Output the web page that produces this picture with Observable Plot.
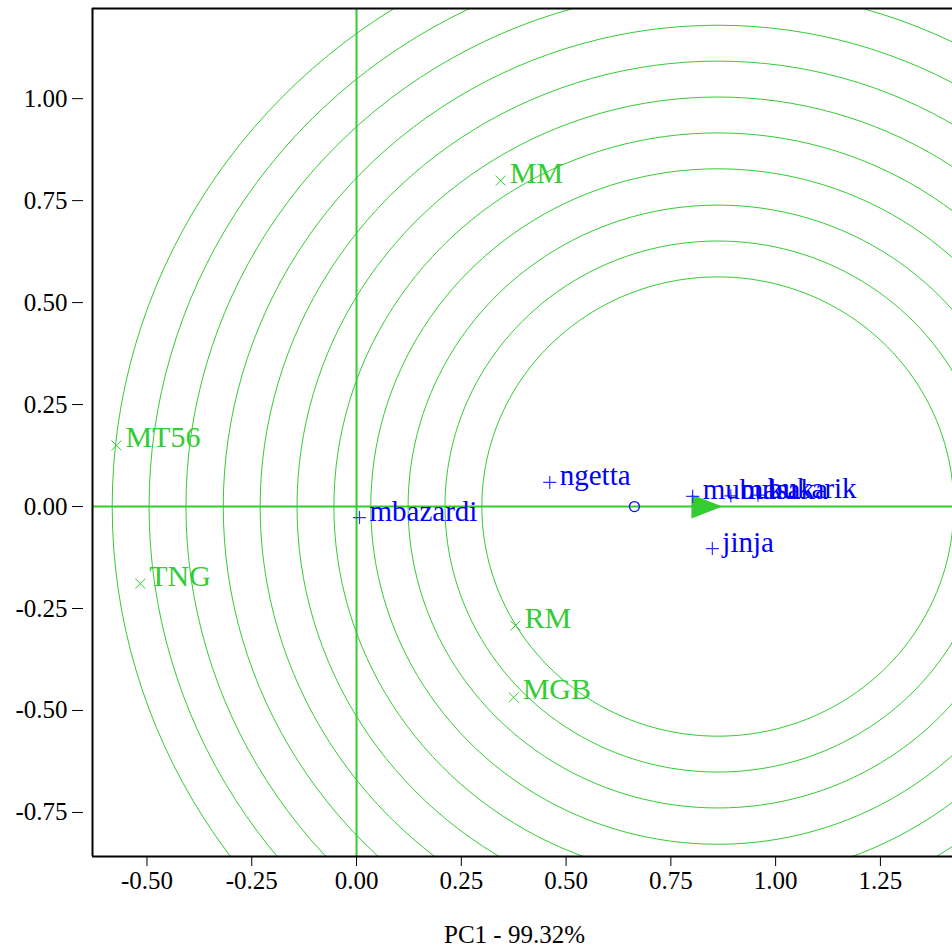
<!DOCTYPE html>
<html>
<head>
<meta charset="utf-8">
<script src="https://cdn.jsdelivr.net/npm/d3@7"></script>
<script src="https://cdn.jsdelivr.net/npm/@observablehq/plot@0.6"></script>
<style>
  html, body { margin: 0; padding: 0; background: #fff; }
</style>
</head>
<body>
<div id="chart"></div>
<script>
// ---- data ----
const genotypeNames = ["ngetta", "mbazardi", "mubuku", "masaka", "bukarik", "jinja"];
const genotypePC1   = [0.461, 0.007, 0.802, 0.893, 0.958, 0.849];
const genotypePC2   = [0.059, -0.027, 0.025, 0.026, 0.028, -0.103];

const envNames = ["MM", "MT56", "TNG", "RM", "MGB"];
const envPC1   = [0.344, -0.573, -0.516, 0.379, 0.375];
const envPC2   = [0.799, 0.150, -0.189, -0.292, -0.468];

const meanPoint = [0.663, 0];          // small "o"
const arrowTip = [0.873, 0];           // AEA arrow head
const circleCenter = [0.862, 0];       // ideal genotype
const circleRadii = [0.563, 0.651, 0.739, 0.828, 0.916, 1.004, 1.092, 1.180, 1.269, 1.357, 1.445];

const xTicks = [-0.5, -0.25, 0, 0.25, 0.5, 0.75, 1.0, 1.25];
const yTicks = [-0.75, -0.5, -0.25, 0, 0.25, 0.5, 0.75, 1.0];
const xDomain = [-0.63, 1.422];
const yDomain = [-0.858, 1.221];
const xLabel = "PC1 - 99.32%";

// ---- derived tables ----
const genotypes = genotypeNames.map((name, i) => ({name, x: genotypePC1[i], y: genotypePC2[i]}));
const envs = envNames.map((name, i) => ({name, x: envPC1[i], y: envPC2[i]}));
const circlePts = circleRadii.flatMap(r =>
  d3.range(0, 361, 2).map(a => ({
    r,
    x: circleCenter[0] + r * Math.cos(a * Math.PI / 180),
    y: circleCenter[1] + r * Math.sin(a * Math.PI / 180)
  }))
);

const GREEN = "#33cc33";
const BLUE = "#0000ff";
const BLUE_MARK = "#3030ff";

const arrowHead = {
  draw(ctx) {
    ctx.moveTo(0, 0);
    ctx.lineTo(-31, -12);
    ctx.lineTo(-31, 12);
    ctx.closePath();
  }
};

const fmt = d => d.toFixed(2);

const chart = Plot.plot({
  width: 952,
  height: 946,
  marginLeft: 92,
  marginRight: 0,
  marginTop: 8,
  marginBottom: 90,
  x: {domain: xDomain},
  y: {domain: yDomain},
  style: {
    fontFamily: "'Liberation Serif', 'Times New Roman', serif",
    fontSize: "25px",
    background: "white",
    color: "black"
  },
  marks: [
    Plot.line(circlePts, {x: "x", y: "y", z: "r", stroke: GREEN, strokeWidth: 1, clip: true}),
    Plot.ruleY([0], {stroke: GREEN, strokeWidth: 2}),
    Plot.ruleX([0], {stroke: GREEN, strokeWidth: 2}),
    Plot.ruleX([xDomain[0]], {stroke: "black", strokeWidth: 2}),
    Plot.ruleY(yDomain, {stroke: "black", strokeWidth: 2}),
    Plot.axisX({ticks: xTicks, tickSize: 10, tickPadding: 5, tickFormat: fmt, fontSize: 25, label: null, stroke: "black"}),
    Plot.axisY({ticks: yTicks, tickSize: 11, tickPadding: 5, dx: -9, tickFormat: fmt, fontSize: 25, label: null, stroke: "black"}),
    Plot.text([xLabel], {text: d => d, frameAnchor: "bottom", dy: 86, dx: -8, lineAnchor: "bottom", fontSize: 25, fill: "black"}),
    Plot.dot([arrowTip], {x: d => d[0], y: d => d[1], symbol: arrowHead, fill: GREEN, stroke: "none"}),
    Plot.dot([meanPoint], {x: d => d[0], y: d => d[1], r: 5, stroke: BLUE, fill: "none", strokeWidth: 1.2}),
    Plot.dot(genotypes, {x: "x", y: "y", symbol: "plus", r: 4.3, stroke: BLUE_MARK, strokeWidth: 1.2}),
    Plot.text(genotypes, {x: "x", y: "y", text: "name", textAnchor: "start", lineAnchor: "bottom", dx: 10, dy: 3, fill: BLUE, fontSize: 29}),
    Plot.dot(envs, {x: "x", y: "y", symbol: "times", r: 4.6, stroke: GREEN, strokeWidth: 1}),
    Plot.text(envs, {x: "x", y: "y", text: "name", textAnchor: "start", lineAnchor: "bottom", dx: 9, dy: 2, fill: GREEN, fontSize: 30})
  ]
});

document.getElementById("chart").appendChild(chart);
</script>
</body>
</html>
